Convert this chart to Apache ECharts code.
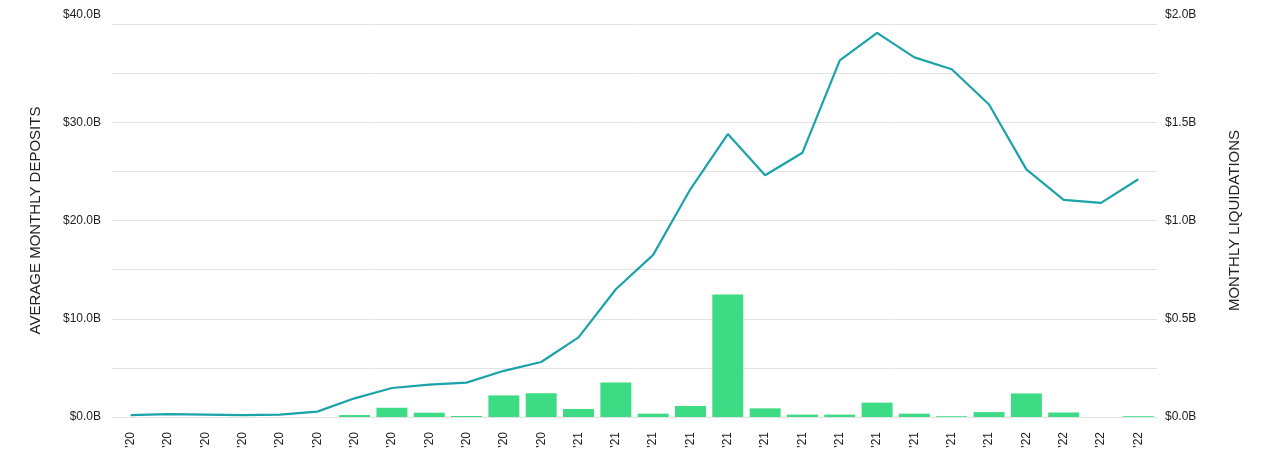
<!DOCTYPE html>
<html>
<head>
<meta charset="utf-8">
<script src="https://cdn.jsdelivr.net/npm/echarts@6/dist/echarts.min.js"></script>
<style>
html,body{margin:0;padding:0;background:#fff;}
#chart{width:1280px;height:452px;}
</style>
</head>
<body>
<div id="chart"></div>
<script>
var categories = ["'20","'20","'20","'20","'20","'20","'20","'20","'20","'20","'20","'20",
  "'21","'21","'21","'21","'21","'21","'21","'21","'21","'21","'21","'21",
  "'22","'22","'22","'22"];
// Average monthly deposits, $B (left axis)
var deposits = [0.2,0.3,0.25,0.2,0.25,0.55,1.9,2.95,3.3,3.5,4.7,5.6,
  8.1,13.0,16.5,23.2,28.8,24.6,26.9,36.3,39.1,36.6,35.4,31.8,
  25.2,22.1,21.8,24.2];
// Monthly liquidations, $B (right axis)
var liquidations = [0,0,0,0,0,0,0.01,0.047,0.022,0.005,0.11,0.121,
  0.041,0.176,0.017,0.056,0.624,0.044,0.012,0.012,0.073,0.017,0.004,0.025,
  0.12,0.023,0.0,0.004];
var leftTicks = {min:0, max:40, interval:5};
var rightTicks = {min:0, max:2, interval:0.25};

var chart = echarts.init(document.getElementById('chart'), null, {renderer:'canvas'});
var font = 'Liberation Sans, Arial, Helvetica, sans-serif';
chart.setOption({
  animation:false,
  grid:{left:112, right:123, top:24, bottom:35, containLabel:false},
  xAxis:{
    type:'category', data:categories, boundaryGap:true,
    axisLine:{show:false}, axisTick:{show:false},
    axisLabel:{rotate:90, margin:15, color:'#222', fontSize:12, fontFamily:font}
  },
  yAxis:[{
    type:'value', min:leftTicks.min, max:leftTicks.max, interval:leftTicks.interval,
    name:'AVERAGE MONTHLY DEPOSITS', nameLocation:'middle', nameGap:69, nameRotate:90,
    nameTextStyle:{color:'#222', fontSize:15, fontFamily:font},
    axisLine:{show:false}, axisTick:{show:false},
    splitLine:{lineStyle:{color:'#e3e3e3', width:1}},
    axisLabel:{
      color:'#222', fontSize:12, fontFamily:font, margin:11,
      formatter:function(v){
        if (v % 10 !== 0) return '';
        var s = '$' + v.toFixed(1) + 'B';
        return v === 40 ? '{top|' + s + '}' : s;
      },
      rich:{top:{padding:[0,0,18,0], color:'#222', fontSize:12, fontFamily:font}}
    }
  },{
    type:'value', min:rightTicks.min, max:rightTicks.max, interval:rightTicks.interval,
    name:'MONTHLY LIQUIDATIONS', nameLocation:'middle', nameGap:70, nameRotate:90,
    nameTextStyle:{color:'#222', fontSize:15, fontFamily:font},
    axisLine:{show:false}, axisTick:{show:false}, splitLine:{show:false},
    axisLabel:{
      color:'#222', fontSize:12, fontFamily:font, margin:8,
      formatter:function(v){
        if (Math.abs(v*2 - Math.round(v*2)) > 1e-6) return '';
        var s = '$' + v.toFixed(1) + 'B';
        return v === 2 ? '{top|' + s + '}' : s;
      },
      rich:{top:{padding:[0,0,18,0], color:'#222', fontSize:12, fontFamily:font}}
    }
  }],
  series:[{
    type:'bar', yAxisIndex:1, data:liquidations, barCategoryGap:'17%',
    itemStyle:{color:'#3ddc84'}, z:1
  },{
    type:'line', yAxisIndex:0, data:deposits, symbol:'none', smooth:false,
    lineStyle:{color:'#1ba3aa', width:2.2}, z:3
  }]
});
</script>
</body>
</html>
